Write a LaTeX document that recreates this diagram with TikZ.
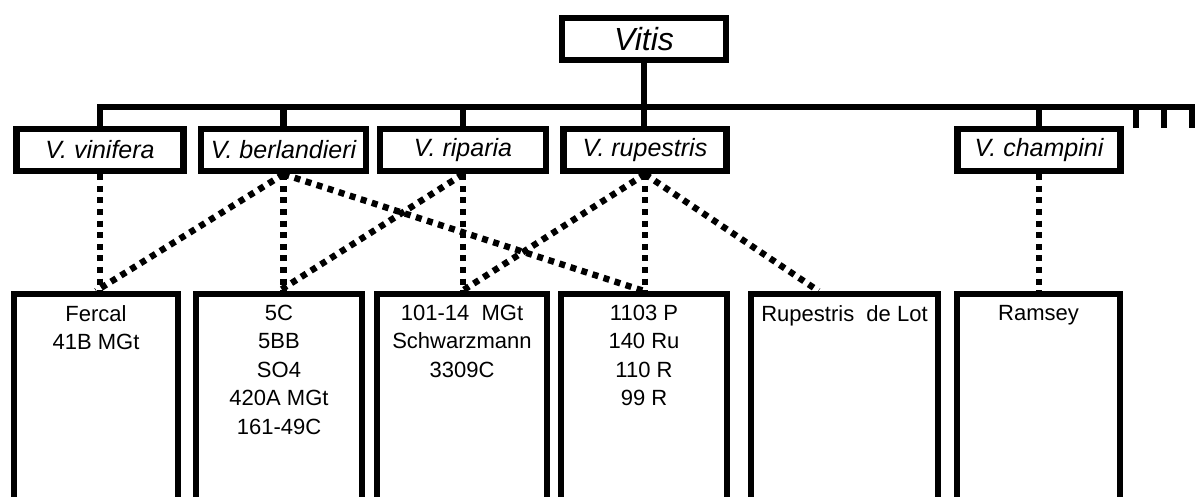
\documentclass[tikz,border=0pt]{standalone}
\usepackage{fontspec}
\setmainfont{Liberation Sans}
\usetikzlibrary{positioning,calc}

\begin{document}
\begin{tikzpicture}[x=0.5pt, y=-0.5pt, line width=3.2pt,
    taxon/.style={draw, minimum width=82pt, minimum height=21pt, inner sep=0pt, font=\fontsize{12.5}{15}\selectfont\itshape},
    cultbox/.style={draw, anchor=north, minimum height=130pt},
    cultlist/.style={align=center, inner sep=0pt, font=\fontsize{11}{14.2}\selectfont},
    cross/.style={dash pattern=on 3pt off 2.8pt}]
    \useasboundingbox (0,0) rectangle (1200,497);
    \clip (0,0) rectangle (1200,497);

    % genus and species
    \node[taxon, font=\fontsize{16}{19}\selectfont\itshape] (vitis) at (644,39) {Vitis};
    \node[taxon, minimum width=83.5pt] (vin) at (100,150) {V. vinifera};
    \node[taxon, minimum width=82.5pt] (ber) at (283.5,150) {V. berlandieri};
    \node[taxon, minimum width=83pt] (rip) at (463,150) {V. riparia};
    \node[taxon, minimum width=81.5pt] (rup) at (645,150) {V. rupestris};
    \node[taxon, minimum width=81.5pt] (cha) at (1039,150) {V. champini};

    % rootstocks
    \node[cultbox, minimum width=82pt] (b1) at (96,291) {};
    \node[cultbox, minimum width=83pt] (b2) at (279,291) {};
    \node[cultbox, minimum width=85pt] (b3) at (462,291) {};
    \node[cultbox, minimum width=83pt] (b4) at (644,291) {};
    \node[cultbox, minimum width=93.5pt] (b5) at (844.5,291) {};
    \node[cultbox, minimum width=81.5pt] (b6) at (1038.5,291) {};
    \node[cultlist, below=5.5pt of b1.north] (l1) {Fercal\\41B MGt};
    \node[cultlist, below=5.5pt of b2.north] (l2) {5C\\5BB\\SO4\\420A MGt\\161-49C};
    \node[cultlist, below=5.5pt of b3.north] (l3) {101-14\ \ MGt\\Schwarzmann\\3309C};
    \node[cultlist, below=5.5pt of b4.north] (l4) {1103 P\\140 Ru\\110 R\\99 R};
    \node[cultlist, below=5.5pt of b5.north] (l5) {Rupestris\ \ de Lot};
    \node[cultlist, below=5.5pt of b6.north] (l6) {Ramsey};

    \coordinate (bus) at (1192,107);
    \coordinate (t1) at (1136,128);
    \coordinate (t2) at (1164,128);
    \coordinate (t3) at (1192,128);

    % tree
    \draw (vin.north) |- (bus) -- (t3);
    \draw (ber.north) -- (ber.north |- bus);
    \draw (rip.north) -- (rip.north |- bus);
    \draw (cha.north) -- (cha.north |- bus);
    \draw (t1) -- (t1 |- bus);
    \draw (t2) -- (t2 |- bus);
    \draw (vitis.south) -- (vitis.south |- rup.north);

    % parentage
    \draw[cross] (vin.south) -- (vin.south |- b1.north);
    \draw[cross] (ber.south) -- (ber.south |- b2.north);
    \draw[cross] (rip.south) -- (rip.south |- b3.north);
    \draw[cross] (rup.south) -- (rup.south |- b4.north);
    \draw[cross] (cha.south) -- (cha.south |- b6.north);
    \draw[cross] (ber.south) -- (b1.north);
    \draw[cross] (ber.south) -- (b4.north);
    \draw[cross] (rip.south) -- (b2.north);
    \draw[cross] (rup.south) -- (b3.north);
    \draw[cross] (rup.south) -- ($(b5.north)+(-26,0)$);
\end{tikzpicture}
\end{document}
